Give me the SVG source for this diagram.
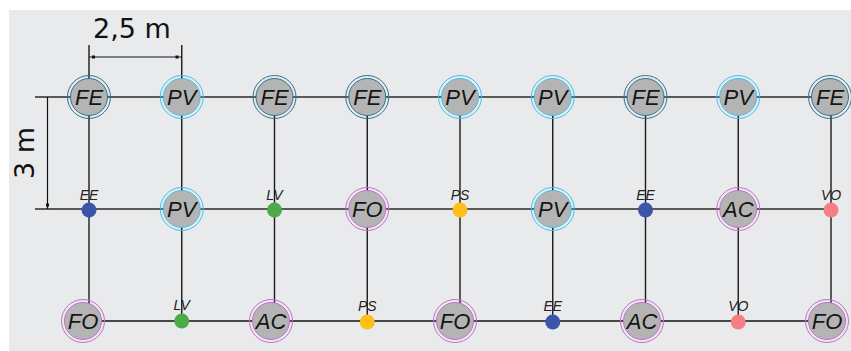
<svg xmlns="http://www.w3.org/2000/svg" width="851" height="351" viewBox="0 0 851 351">
<style>
.bg{fill:#E9EAEC}
.h{stroke:#5a5a5a;stroke-width:1.8;fill:none}
.hb{stroke:#111;stroke-width:1.4;fill:none}
.v{stroke:#1a1a1a;stroke-width:1.4;fill:none}
.dim{stroke:#111;stroke-width:1.2;fill:none}
.fe{stroke:#2E7390}
.pv{stroke:#3EC2F0}
.fo{stroke:#C46FCC}
.nl{font-family:"Liberation Sans",Arial,sans-serif;font-style:italic;font-size:22px;fill:#151515;stroke:none;text-anchor:middle}
.dl{font-family:"Liberation Sans",Arial,sans-serif;font-style:italic;font-size:14px;fill:#222;text-anchor:middle}
.dt{font-family:"DejaVu Sans",Verdana,sans-serif;font-size:27px;fill:#111;text-anchor:middle}
.ee{fill:#3B55A8}.lv{fill:#4CAA48}.ps{fill:#FFBF1A}.vo{fill:#F57F82}
</style>
<defs>
<g id="ndisc"><circle r="18.5" fill="#B4B4B4" stroke-width="1"/><circle r="21.5" fill="none" stroke-width="1"/></g>
</defs>
<rect class="bg" x="9" y="10" width="842" height="341"/>
<g id="connectors">
<line class="h" x1="35" y1="97" x2="831" y2="97"/>
<line class="h" x1="35" y1="209" x2="832" y2="209"/>
<line class="hb" x1="83" y1="321" x2="826" y2="321"/>
<line class="v" x1="89" y1="45" x2="89" y2="321"/>
<line class="v" x1="181.75" y1="45" x2="181.75" y2="321"/>
<line class="v" x1="274.5" y1="97" x2="274.5" y2="321"/>
<line class="v" x1="367.25" y1="97" x2="367.25" y2="321"/>
<line class="v" x1="460" y1="97" x2="460" y2="321"/>
<line class="v" x1="552.75" y1="97" x2="552.75" y2="321"/>
<line class="v" x1="645.5" y1="97" x2="645.5" y2="321"/>
<line class="v" x1="738.25" y1="97" x2="738.25" y2="321"/>
<line class="v" x1="831" y1="97" x2="831" y2="321"/>
</g>
<g id="dimensions">
<line class="dim" x1="89" y1="57" x2="181.75" y2="57"/>
<rect x="92" y="55.5" width="3" height="3" fill="#111"/>
<rect x="175.5" y="55.5" width="3" height="3" fill="#111"/>
<text class="dt" x="132" y="38">2,5 m</text>
<line class="dim" x1="47.5" y1="97" x2="47.5" y2="209"/>
<rect x="46" y="203.5" width="3" height="3" fill="#111"/>
<text class="dt" transform="translate(34,153) rotate(-90)">3 m</text>
</g>
<g id="n-t1" class="fe"><use href="#ndisc" x="89" y="97"/><text class="nl" x="89" y="105">FE</text></g>
<g id="n-t2" class="pv"><use href="#ndisc" x="181.75" y="97"/><text class="nl" x="181.75" y="105">PV</text></g>
<g id="n-t3" class="fe"><use href="#ndisc" x="274.5" y="97"/><text class="nl" x="274.5" y="105">FE</text></g>
<g id="n-t4" class="fe"><use href="#ndisc" x="367.25" y="97"/><text class="nl" x="367.25" y="105">FE</text></g>
<g id="n-t5" class="pv"><use href="#ndisc" x="460" y="97"/><text class="nl" x="460" y="105">PV</text></g>
<g id="n-t6" class="pv"><use href="#ndisc" x="552.75" y="97"/><text class="nl" x="552.75" y="105">PV</text></g>
<g id="n-t7" class="fe"><use href="#ndisc" x="645.5" y="97"/><text class="nl" x="645.5" y="105">FE</text></g>
<g id="n-t8" class="pv"><use href="#ndisc" x="738.25" y="97"/><text class="nl" x="738.25" y="105">PV</text></g>
<g id="n-t9" class="fe"><use href="#ndisc" x="830" y="97"/><text class="nl" x="830" y="105">FE</text></g>
<g id="n-m1"><circle class="ee" cx="89" cy="210" r="7.5"/><text class="dl" x="89" y="200">EE</text></g>
<g id="n-m2" class="pv"><use href="#ndisc" x="181.75" y="209"/><text class="nl" x="181.75" y="217">PV</text></g>
<g id="n-m3"><circle class="lv" cx="274.5" cy="210" r="7.5"/><text class="dl" x="274.5" y="200">LV</text></g>
<g id="n-m4" class="fo"><use href="#ndisc" x="367.25" y="209"/><text class="nl" x="367.25" y="217">FO</text></g>
<g id="n-m5"><circle class="ps" cx="460" cy="210" r="7.5"/><text class="dl" x="460" y="200">PS</text></g>
<g id="n-m6" class="pv"><use href="#ndisc" x="552.75" y="209"/><text class="nl" x="552.75" y="217">PV</text></g>
<g id="n-m7"><circle class="ee" cx="645.5" cy="210" r="7.5"/><text class="dl" x="645.5" y="200">EE</text></g>
<g id="n-m8" class="fo"><use href="#ndisc" x="738.25" y="209"/><text class="nl" x="738.25" y="217">AC</text></g>
<g id="n-m9"><circle class="vo" cx="831" cy="210" r="7.5"/><text class="dl" x="831" y="200">VO</text></g>
<g id="n-b1" class="fo"><use href="#ndisc" x="83" y="321"/><text class="nl" x="83" y="329">FO</text></g>
<g id="n-b2"><circle class="lv" cx="181.75" cy="321" r="7.5"/><text class="dl" x="181.75" y="310">LV</text></g>
<g id="n-b3" class="fo"><use href="#ndisc" x="271" y="321"/><text class="nl" x="271" y="329">AC</text></g>
<g id="n-b4"><circle class="ps" cx="367.25" cy="322" r="7.5"/><text class="dl" x="367.25" y="311">PS</text></g>
<g id="n-b5" class="fo"><use href="#ndisc" x="455" y="321"/><text class="nl" x="455" y="329">FO</text></g>
<g id="n-b6"><circle class="ee" cx="552.75" cy="322" r="7.5"/><text class="dl" x="552.75" y="311">EE</text></g>
<g id="n-b7" class="fo"><use href="#ndisc" x="642" y="321"/><text class="nl" x="642" y="329">AC</text></g>
<g id="n-b8"><circle class="vo" cx="738.25" cy="322" r="7.5"/><text class="dl" x="738.25" y="311">VO</text></g>
<g id="n-b9" class="fo"><use href="#ndisc" x="827" y="321"/><text class="nl" x="827" y="329">FO</text></g>
</svg>
